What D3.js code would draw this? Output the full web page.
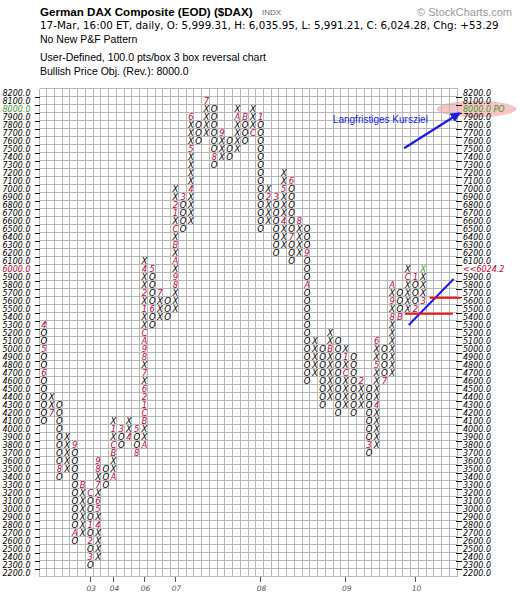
<!DOCTYPE html>
<html>
<head>
<meta charset="utf-8">
<script src="https://cdn.jsdelivr.net/npm/d3@7"></script>
<style>
  html, body { margin: 0; padding: 0; background: #fff; }
  svg { display: block; }
</style>
</head>
<body>
<svg id="chart" width="520" height="602"></svg>
<script>
// ---- Point & Figure data: 100 pts/box, 3 box reversal ----
const priceTop = 8200;
const priceBottom = 2200;
const boxSize = 100;
const gridColumns = 54;

// one entry per column, oldest first
const colType = ["O","X","O","X","O","X","O","X","O","X",
                 "O","X","O","X","O","X","O","X","O","X",
                 "O","X","O","X","O","X","O","X","O","X",
                 "O","X","O","X","O","X","O","X","O","X",
                 "O","X","O","X","O","X","O","X","O","X"];
const colHigh = [5300,4400,4300,3900,3800,3300,3200,3600,3500,4100,
                 4000,4100,4000,6100,6000,5700,5600,7000,6900,7900,
                 7800,8100,8000,7700,7600,8000,7900,8000,7900,7000,
                 6900,7200,7100,6600,6500,5100,5000,5200,5100,5000,
                 4900,4600,4500,5100,5000,5800,5700,6000,5900,6000];
const colLow  = [4100,4200,3400,3500,2600,2700,2300,2400,3300,3400,
                 3800,3900,3700,3800,5300,5400,5400,5500,6500,6600,
                 7600,7700,7300,7400,7400,7500,7600,7700,6500,6600,
                 6200,6300,6100,6200,4600,4700,4300,4400,4200,4300,
                 4200,4300,3700,3800,4600,4700,5400,5500,5500,5600];

// month markers: [column, box price, month code 1-9, A=Oct, B=Nov, C=Dec]
const monthMarks = [
  [0,5300,"4"],[0,5000,"5"],[0,4700,"6"],
  [1,4200,"7"],
  [2,3500,"8"],
  [4,3800,"9"],[4,2700,"A"],
  [5,3300,"B"],
  [6,3200,"C"],[6,2800,"1"],[6,2600,"2"],[6,2400,"3"],
  [7,2800,"4"],[7,3000,"5"],[7,3100,"6"],[7,3300,"7"],[7,3500,"8"],[7,3600,"9"],
  [9,3400,"A"],[9,3700,"B"],[9,3800,"C"],[9,4000,"1"],
  [10,4000,"3"],
  [11,3900,"4"],
  [12,4000,"5"],[12,3700,"8"],
  [13,3800,"A"],[13,4100,"B"],[13,4200,"C"],[13,4300,"1"],[13,4400,"2"],[13,4500,"6"],
  [13,4700,"7"],[13,4900,"8"],[13,5000,"9"],[13,5100,"A"],[13,5200,"C"],[13,5500,"1"],
  [13,5700,"2"],[13,6000,"4"],
  [14,6000,"5"],[14,5500,"6"],
  [15,5700,"7"],
  [17,5800,"8"],[17,5900,"9"],[17,6100,"A"],[17,6300,"B"],[17,6500,"C"],[17,6700,"1"],[17,6800,"2"],
  [18,6900,"3"],
  [19,7000,"4"],[19,7500,"5"],[19,7900,"6"],
  [21,8100,"7"],
  [22,7400,"8"],
  [23,7700,"9"],
  [25,7900,"A"],
  [26,7900,"B"],
  [27,7700,"C"],
  [28,7900,"1"],
  [29,6900,"2"],
  [30,6900,"3"],
  [31,6600,"4"],[31,7000,"5"],
  [32,7100,"6"],[32,6400,"7"],
  [33,6600,"8"],
  [34,6200,"9"],[34,5800,"A"],
  [37,5000,"B"],
  [39,4700,"C"],[39,4900,"1"],
  [41,4600,"2"],
  [42,3800,"3"],
  [43,4300,"4"],[43,4800,"5"],[43,5100,"6"],
  [44,4600,"7"],
  [45,5400,"8"],[45,5600,"9"],[45,5800,"A"],
  [46,5400,"B"],
  [47,5900,"C"],
  [48,5900,"1"],[48,5500,"2"],
  [49,5600,"3"]
];

// year labels at the column where January begins
const yearLabels = [[6,"03"],[9,"04"],[13,"06"],[17,"07"],[28,"08"],[39,"09"],[48,"10"]];

const lastClose = 6024.2;
const priceObjective = 8000;
const currentBox = 6000;

const quoteLine = "17-Mar, 16:00 ET, daily, O: 5,999.31, H: 6,035.95, L: 5,991.21, C: 6,024.28, Chg: +53.29";
const infoLines = [
  "No New P&F Pattern",
  "User-Defined, 100.0 pts/box 3 box reversal chart",
  "Bullish Price Obj. (Rev.): 8000.0"
];

// hand-drawn annotations, in column units / price units
const targetText = "Langfristiges Kursziel";
const arrowFrom = [47.1, 7510], arrowTo = [54.3, 7950];
const trendFrom = [47.7, 5300], trendTo = [53.5, 5875];
const redLines = [[50.4, 54.4, 5640], [47.2, 53.4, 5440]];

// ---- scales ----
const svg = d3.select("#chart");
const x = d3.scaleLinear().domain([0, gridColumns]).range([39.5, 457.5]);
const y = d3.scaleLinear().domain([priceBottom - boxSize / 2, priceTop + boxSize / 2]).range([577, 89]);
const levels = d3.range(priceBottom, priceTop + 1, boxSize);
const crisp = v => Math.round(v) + 0.5;

const glyphFont = "'DejaVu Sans', Verdana, sans-serif";
const headFont = "'Liberation Sans', Arial, sans-serif";

// ---- header ----
svg.append("text").attr("x", 40).attr("y", 16)
  .attr("font-family", headFont).attr("font-weight", "bold").attr("font-size", 11.6)
  .attr("fill", "#000").text("German DAX Composite (EOD) ($DAX)");
svg.append("text").attr("x", 262).attr("y", 15)
  .attr("font-family", headFont).attr("font-size", 8).attr("fill", "#666").text("INDX");
svg.append("text").attr("x", 512).attr("y", 16).attr("text-anchor", "end")
  .attr("font-family", headFont).attr("font-size", 11).attr("fill", "#999")
  .text("\u00A9 StockCharts.com");
svg.append("text").attr("x", 40).attr("y", 28.8)
  .attr("font-family", glyphFont).attr("font-size", 10.35).attr("fill", "#000").text(quoteLine);
const infoY = [43, 60.5, 74.7];
infoLines.forEach((t, i) => {
  svg.append("text").attr("x", 40).attr("y", infoY[i])
    .attr("font-family", headFont).attr("font-size", 10.5).attr("fill", "#000").text(t);
});

// ---- grid ----
const grid = svg.append("g").attr("stroke", "#b8b8b8").attr("stroke-width", 1).attr("shape-rendering", "crispEdges");
d3.range(gridColumns + 1).forEach(c => {
  grid.append("line").attr("x1", crisp(x(c)) - 1).attr("x2", crisp(x(c)) - 1)
    .attr("y1", y(priceTop + boxSize / 2)).attr("y2", y(priceBottom - boxSize / 2));
});
d3.range(priceBottom - boxSize / 2, priceTop + boxSize, boxSize).forEach(p => {
  grid.append("line").attr("x1", crisp(x(0)) - 1).attr("x2", crisp(x(gridColumns)) - 1)
    .attr("y1", crisp(y(p)) - 1).attr("y2", crisp(y(p)) - 1);
});

// price ticks on both sides, at box boundaries
const ticks = svg.append("g").attr("stroke", "#000").attr("shape-rendering", "crispEdges");
d3.range(priceBottom + boxSize / 2, priceTop, boxSize).forEach(p => {
  ticks.append("line").attr("x1", 35).attr("x2", 40).attr("y1", crisp(y(p))).attr("y2", crisp(y(p)));
  ticks.append("line").attr("x1", 456).attr("x2", 462).attr("y1", crisp(y(p))).attr("y2", crisp(y(p)));
});

// ---- price axes ----
const fmt = d3.format(".1f");
const leftAxis = svg.append("g").attr("transform", "translate(30.5,0)")
  .call(d3.axisLeft(y).tickValues(levels).tickSize(0).tickPadding(0).tickFormat(fmt));
const rightAxis = svg.append("g").attr("transform", "translate(463,0)")
  .call(d3.axisRight(y).tickValues(levels).tickSize(0).tickPadding(0)
    .tickFormat(d => d === currentBox ? "<<" + fmt(lastClose)
                  : d === priceObjective ? fmt(d) + " PO" : fmt(d)));
[leftAxis, rightAxis].forEach(a => {
  a.select(".domain").remove();
  a.selectAll("text").attr("font-family", glyphFont).attr("font-size", 8)
    .attr("font-style", "italic").attr("fill", "#000");
});

// highlight behind the price objective label
svg.insert("ellipse", "g").attr("cx", x(gridColumns) + 19).attr("cy", y(priceObjective))
  .attr("rx", 40).attr("ry", 8).attr("fill", "#f08c8c").attr("fill-opacity", 0.5);

[leftAxis, rightAxis].forEach(a => {
  a.selectAll(".tick").filter(d => d === priceObjective).select("text").attr("fill", "#3a9a2a");
  a.selectAll(".tick").filter(d => d === currentBox).select("text").attr("fill", "#cc0033");
});

// ---- X / O columns ----
const markLookup = new Map(monthMarks.map(m => [m[0] + ":" + m[1], m[2]]));
const boxes = [];
colType.forEach((t, c) => {
  for (let p = colLow[c]; p <= colHigh[c]; p += boxSize) {
    const mk = markLookup.get(c + ":" + p);
    const isLast = c === colType.length - 1 && p === colHigh[c];
    boxes.push({ c, p, text: mk || t, color: mk ? "#c8003c" : isLast ? "#2ea62e" : "#000" });
  }
});
svg.append("g").selectAll("text").data(boxes).join("text")
  .attr("x", d => x(d.c + 0.5) + 0.5)
  .attr("y", d => y(d.p))
  .attr("dy", "0.36em")
  .attr("text-anchor", "middle")
  .attr("font-family", glyphFont).attr("font-size", 8.5).attr("font-style", "italic")
  .attr("fill", d => d.color)
  .text(d => d.text);

// ---- year axis ----
const years = svg.append("g");
yearLabels.forEach(([c, lbl]) => {
  years.append("line").attr("x1", crisp(x(c + 0.5))).attr("x2", crisp(x(c + 0.5)))
    .attr("y1", 577).attr("y2", 582).attr("stroke", "#555").attr("shape-rendering", "crispEdges");
  years.append("text").attr("x", x(c + 0.5) + 1.5).attr("y", 590.5).attr("text-anchor", "middle")
    .attr("font-family", glyphFont).attr("font-size", 7.5).attr("font-style", "italic")
    .attr("fill", "#555").text(lbl);
});

// ---- annotations ----
const defs = svg.append("defs");
defs.append("marker").attr("id", "head").attr("viewBox", "0 0 10 10")
  .attr("refX", 9).attr("refY", 5).attr("markerWidth", 4.5).attr("markerHeight", 4.5)
  .attr("orient", "auto").append("path").attr("d", "M0,0 L10,5 L0,10 Z").attr("fill", "#1a1af0");

svg.append("line").attr("x1", x(arrowFrom[0])).attr("y1", y(arrowFrom[1]))
  .attr("x2", x(arrowTo[0])).attr("y2", y(arrowTo[1]))
  .attr("stroke", "#1a1af0").attr("stroke-width", 2.2).attr("marker-end", "url(#head)");
svg.append("text").attr("x", x(37.9)).attr("y", y(7830))
  .attr("font-family", headFont).attr("font-size", 10).attr("fill", "#1a1af0").text(targetText);

svg.append("line").attr("x1", x(trendFrom[0])).attr("y1", y(trendFrom[1]))
  .attr("x2", x(trendTo[0])).attr("y2", y(trendTo[1]))
  .attr("stroke", "#1a1af0").attr("stroke-width", 2);

redLines.forEach(([c0, c1, p]) => {
  svg.append("line").attr("x1", x(c0)).attr("x2", x(c1)).attr("y1", y(p)).attr("y2", y(p))
    .attr("stroke", "#f01010").attr("stroke-width", 2);
});
</script>
</body>
</html>
